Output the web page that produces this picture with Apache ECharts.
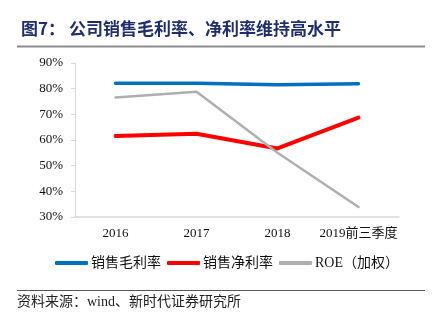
<!DOCTYPE html>
<html><head><meta charset="utf-8">
<script src="https://cdn.jsdelivr.net/npm/echarts@6/dist/echarts.min.js"></script>
<style>html,body{margin:0;padding:0;background:#fff}#c{width:435px;height:321px}</style>
</head><body><div id="c"></div>
<script>
var categories = ['2016', '2017', '2018', '2019前三季度'];
var grossMargin = [82.1, 82.1, 81.5, 81.9];
var netMargin = [61.6, 62.4, 56.7, 68.7];
var roe = [76.6, 78.8, 55.0, 33.9];
var yTicks = { min: 30, max: 90, interval: 10 };
var seriesNames = ['销售毛利率', '销售净利率', 'ROE（加权）'];

var chart = echarts.init(document.getElementById('c'));
var serif = '"Liberation Serif","Times New Roman","Noto Sans CJK SC",serif';
var cjk = '"Liberation Serif","Noto Sans CJK SC",sans-serif';
chart.setOption({
  animation: false,
  backgroundColor: '#fff',
  title: {
    text: '图7： 公司销售毛利率、净利率维持高水平',
    left: 16, top: 14,
    textStyle: { fontFamily: '"Noto Sans CJK SC",sans-serif', fontSize: 17, fontWeight: 'bold', color: '#1F2F6E', lineHeight: 20 }
  },
  graphic: [
    { type: 'line', shape: { x1: 17, y1: 46.5, x2: 425, y2: 46.5 }, style: { stroke: '#8C8C8C', lineWidth: 2 } },
    { type: 'line', shape: { x1: 17, y1: 290.5, x2: 425, y2: 290.5 }, style: { stroke: '#555', lineWidth: 1 } },
    { type: 'text', left: 17, top: 295, style: { text: '资料来源：wind、新时代证券研究所', font: '14px ' + cjk, fill: '#222' } }
  ],
  grid: { left: 75, right: 36, top: 63, bottom: 104 },
  legend: {
    bottom: 46, left: 50,
    itemWidth: 33, itemHeight: 4, itemGap: 6,
    icon: 'roundRect',
    textStyle: { fontFamily: cjk, fontSize: 14, color: '#111', padding: [0, 0, 0, -2] },
    data: seriesNames
  },
  xAxis: {
    type: 'category', data: categories, boundaryGap: true,
    axisLine: { lineStyle: { color: '#D9D9D9', width: 1.5 } },
    axisTick: { show: false },
    axisLabel: { interval: 0, margin: 10, fontFamily: cjk, fontSize: 13, color: '#111' }
  },
  yAxis: {
    type: 'value', min: yTicks.min, max: yTicks.max, interval: yTicks.interval,
    axisLine: { show: true, lineStyle: { color: '#D9D9D9' } },
    axisTick: { show: true, length: 4, lineStyle: { color: '#D9D9D9' } },
    splitLine: { show: false },
    axisLabel: { margin: 12, formatter: '{value}%', fontFamily: serif, fontSize: 13, color: '#111' }
  },
  series: [
    { name: seriesNames[0], type: 'line', data: grossMargin, symbol: 'none', lineStyle: { color: '#0070C0', width: 3.5, cap: 'round' }, itemStyle: { color: '#0070C0' } },
    { name: seriesNames[1], type: 'line', data: netMargin, symbol: 'none', lineStyle: { color: '#FF0000', width: 4, cap: 'round' }, itemStyle: { color: '#FF0000' } },
    { name: seriesNames[2], type: 'line', data: roe, symbol: 'none', lineStyle: { color: '#AFAFAF', width: 2.5, cap: 'round' }, itemStyle: { color: '#AFAFAF' } }
  ]
});
</script></body></html>
